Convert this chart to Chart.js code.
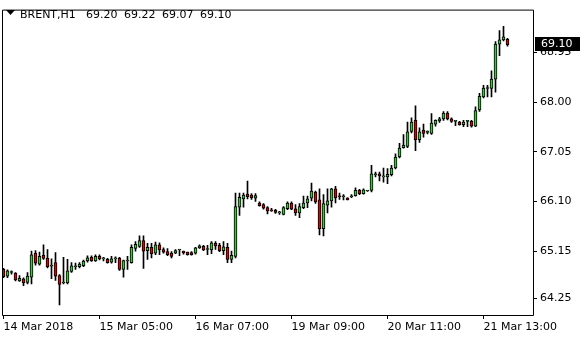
<!DOCTYPE html>
<html><head><meta charset="utf-8">
<script src="https://cdn.jsdelivr.net/npm/chart.js@4/dist/chart.umd.min.js"></script>
<style>html,body{margin:0;padding:0;background:#fff;overflow:hidden}#wrap{width:580px;height:340px;position:relative}</style>
</head><body><div id="wrap"><canvas id="c"></canvas></div>
<script>
const symbolTitle = "BRENT,H1";
const headerValues = ["69.20", "69.22", "69.07", "69.10"];
const opens = [64.80,64.67,64.74,64.73,64.58,64.62,64.55,64.65,65.11,64.90,65.07,65.01,64.86,64.93,64.68,64.54,64.54,64.76,64.85,64.85,64.87,64.96,65.03,64.96,65.05,65.00,64.99,64.94,65.00,65.01,64.80,64.96,64.93,65.20,65.24,65.35,65.16,65.22,65.11,65.27,65.18,65.14,65.11,65.11,65.17,65.15,65.13,65.12,65.11,65.21,65.24,65.18,65.17,65.30,65.26,65.16,65.22,64.99,65.05,65.99,66.15,66.24,66.22,66.16,66.07,66.04,65.98,65.93,65.93,65.88,65.85,65.96,66.07,65.96,65.88,65.98,66.07,66.16,66.28,66.13,65.58,66.03,66.11,66.34,66.20,66.19,66.17,66.19,66.21,66.31,66.25,66.30,66.31,66.61,66.63,66.57,66.57,66.61,66.74,66.95,67.13,67.15,67.44,67.65,67.28,67.46,67.42,67.40,67.58,67.64,67.68,67.79,67.68,67.63,67.62,67.57,67.63,67.63,67.54,67.85,68.10,68.26,68.26,68.44,69.11,69.19,69.20];
const highs = [64.82,64.79,64.77,64.74,64.68,64.64,64.74,65.15,65.16,65.13,65.27,65.18,65.00,65.12,64.70,65.03,64.99,64.93,64.92,64.93,64.98,65.06,65.06,65.08,65.08,65.03,65.01,65.05,65.04,65.03,64.98,65.05,65.27,65.33,65.44,65.44,65.30,65.30,65.32,65.31,65.21,65.20,65.14,65.18,65.18,65.15,65.13,65.14,65.22,65.27,65.26,65.26,65.33,65.33,65.30,65.33,65.30,65.15,66.26,66.26,66.26,66.49,66.25,66.25,66.09,66.06,66.00,65.97,65.95,65.91,66.00,66.09,66.09,66.04,66.06,66.20,66.20,66.45,66.30,66.34,66.23,66.34,66.35,66.39,66.26,66.23,66.17,66.23,66.36,66.33,66.34,66.31,66.79,66.66,66.66,66.74,66.73,66.79,67.01,67.21,67.38,67.62,67.70,67.93,67.51,67.58,67.45,67.78,67.66,67.71,67.82,67.82,67.70,67.64,67.63,67.65,67.65,67.65,67.91,68.17,68.32,68.32,68.60,69.16,69.37,69.45,69.22];
const lows = [64.64,64.64,64.71,64.58,64.57,64.49,64.52,64.52,64.88,64.88,64.99,64.83,64.62,64.59,64.12,64.52,64.52,64.74,64.80,64.83,64.85,64.94,64.95,64.95,64.98,64.96,64.92,64.92,64.93,64.78,64.65,64.80,64.92,65.15,65.22,64.82,64.99,65.02,65.08,65.08,65.11,65.06,65.02,65.10,65.06,65.09,65.07,65.07,65.09,65.20,65.16,65.08,65.10,65.18,65.14,65.08,64.93,64.93,65.02,65.83,65.99,66.15,66.14,66.10,66.01,65.95,65.86,65.91,65.87,65.85,65.84,65.94,65.94,65.83,65.79,65.96,65.98,66.11,66.06,65.46,65.44,65.88,65.99,66.07,66.14,66.13,66.13,66.17,66.20,66.23,66.24,66.29,66.28,66.57,66.49,66.47,66.44,66.59,66.72,66.93,67.12,67.13,67.41,67.07,67.23,67.33,67.39,67.38,67.54,67.61,67.65,67.66,67.61,67.55,67.56,67.53,67.53,67.52,67.53,67.82,68.08,68.10,68.10,68.19,68.89,69.17,69.07];
const closes = [64.66,64.77,64.75,64.60,64.63,64.54,64.67,65.08,64.92,65.05,65.01,64.85,64.88,64.67,64.51,64.55,64.77,64.87,64.86,64.90,64.96,65.02,64.96,65.05,65.00,65.00,64.93,65.00,65.01,64.80,64.97,64.96,65.22,65.28,65.35,65.15,65.22,65.10,65.27,65.17,65.13,65.08,65.05,65.16,65.17,65.12,65.08,65.08,65.21,65.25,65.17,65.18,65.31,65.25,65.16,65.23,64.99,65.07,66.00,66.18,66.22,66.19,66.17,66.21,66.02,65.97,65.92,65.92,65.89,65.88,65.98,66.07,65.95,65.88,66.00,66.07,66.15,66.30,66.09,65.58,66.06,66.11,66.34,66.17,66.19,66.20,66.13,66.20,66.31,66.25,66.32,66.30,66.63,66.61,66.59,66.58,66.62,66.74,66.95,67.12,67.18,67.43,67.62,67.28,67.43,67.40,67.42,67.60,67.65,67.68,67.79,67.68,67.63,67.63,67.57,67.62,67.65,67.54,67.84,68.11,68.27,68.27,68.44,69.11,69.19,69.25,69.10];
const timeLabels = ["14 Mar 2018","15 Mar 05:00","16 Mar 07:00","19 Mar 09:00","20 Mar 11:00","21 Mar 13:00"];
const timeLabelBars = [0, 24, 48, 72, 96, 120];
const priceTicks = [64.25, 65.15, 66.10, 67.05, 68.00, 68.95];

const FONT = '"DejaVu Sans", sans-serif';
const BULL = '#33cc33', BEAR = '#e00000';

const wickData = opens.map((o, i) => ({x: i, y: [lows[i], highs[i]]}));
const bodyData = opens.map((o, i) => ({x: i, y: [Math.min(o, closes[i]), Math.max(o, closes[i])]}));
const bodyColors = opens.map((o, i) => closes[i] >= o ? BULL : BEAR);

const framePlugin = {
  id: 'frame',
  afterDraw(chart) {
    const {ctx, chartArea: a} = chart;
    ctx.save();
    ctx.strokeStyle = '#000'; ctx.lineWidth = 1;
    ctx.beginPath();
    ctx.moveTo(a.left + 0.5, a.bottom + 0.5); ctx.lineTo(a.left + 0.5, a.top + 0.5);
    ctx.lineTo(a.right + 0.5, a.top + 0.5); ctx.lineTo(a.right + 0.5, a.bottom + 0.5);
    ctx.lineTo(a.left + 0.5, a.bottom + 0.5);
    ctx.stroke();
    ctx.fillStyle = '#000';
    ctx.beginPath(); ctx.moveTo(6, 10); ctx.lineTo(15, 10); ctx.lineTo(10.5, 15); ctx.closePath(); ctx.fill();
    ctx.font = '11px ' + FONT; ctx.textBaseline = 'alphabetic'; ctx.textAlign = 'left';
    ctx.fillText(symbolTitle, 20, 18);
    const hx = [86, 124, 162, 200];
    headerValues.forEach((t, k) => ctx.fillText(t, hx[k], 18));
    const ys = chart.scales.y;
    const last = closes[closes.length - 1];
    const py = Math.round(ys.getPixelForValue(last));
    ctx.fillRect(535, py - 8, 45, 14);
    ctx.fillStyle = '#fff'; ctx.textBaseline = 'middle';
    ctx.fillText(last.toFixed(2), 541, py - 1);
    ctx.restore();
  }
};

new Chart(document.getElementById('c'), {
  type: 'bar',
  data: {
    datasets: [
      {data: wickData, backgroundColor: '#000', borderWidth: 0, grouped: false, barThickness: 1, maxBarThickness: 1, order: 2},
      {data: bodyData, backgroundColor: bodyColors, borderColor: '#000', borderWidth: 1, borderSkipped: false, minBarLength: 1, grouped: false, barThickness: 3, maxBarThickness: 3, order: 1}
    ]
  },
  options: {
    responsive: true, maintainAspectRatio: false, animation: false,
    layout: {padding: {left: 2, top: 2, right: 0, bottom: 0}, autoPadding: false},
    plugins: {legend: {display: false}, tooltip: {enabled: false}},
    scales: {
      x: {
        type: 'linear', min: -0.375, max: 132.375, position: 'bottom', offset: false,
        afterFit(s) { s.height = 25; },
        afterBuildTicks(s) { s.ticks = timeLabelBars.map(v => ({value: v})); },
        grid: {offset: false, drawOnChartArea: false, drawTicks: true, tickLength: 4, color: '#000'},
        border: {display: false},
        ticks: {autoSkip: false, maxRotation: 0, align: 'start', padding: 2, color: '#000', font: {family: FONT, size: 11},
          callback: (v, idx) => timeLabels[idx]}
      },
      y: {
        type: 'linear', min: 63.927, max: 69.77, position: 'right',
        afterFit(s) { s.width = 47; },
        afterBuildTicks(s) { s.ticks = priceTicks.map(v => ({value: v})); },
        grid: {drawOnChartArea: false, drawTicks: true, tickLength: 4, color: '#000'},
        border: {display: false},
        ticks: {padding: 3, color: '#000', font: {family: FONT, size: 11}, callback: v => v.toFixed(2)}
      }
    }
  },
  plugins: [framePlugin]
});
</script></body></html>
